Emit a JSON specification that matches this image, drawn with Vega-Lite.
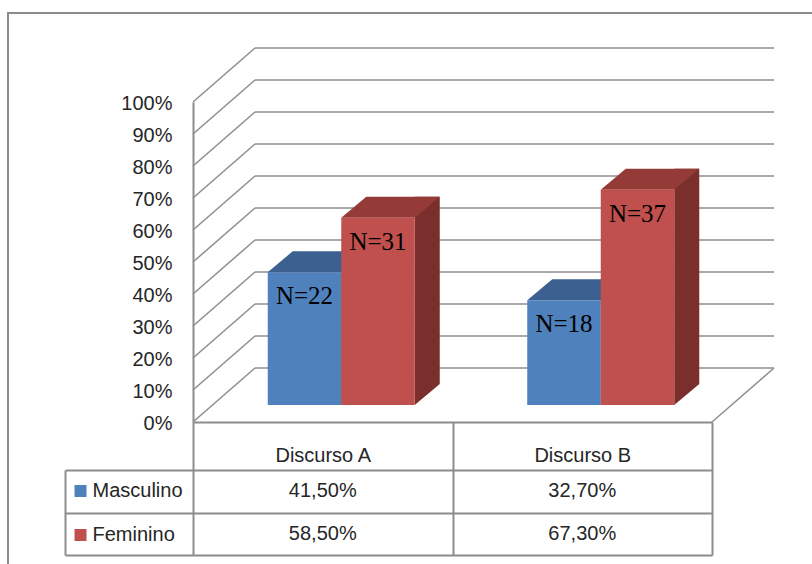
{
  "$schema": "https://vega.github.io/schema/vega-lite/v6.json",
  "width": 812,
  "height": 557,
  "autosize": "none",
  "padding": {"left": 8, "top": 13, "right": -8, "bottom": -6},
  "background": "#ffffff",
  "config": {
    "view": {"stroke": "#8c8c8c", "strokeWidth": 2},
    "locale": {
      "number": {"decimal": ",", "thousands": ".", "grouping": [3], "currency": ["", " €"]}
    },
    "axis": {
      "labelFont": "Liberation Sans",
      "labelFontSize": 20,
      "labelColor": "#262626",
      "domainColor": "#8c8c8c",
      "domainWidth": 2,
      "tickColor": "#8c8c8c",
      "tickWidth": 2,
      "grid": false
    }
  },
  "datasets": {
    "shares": [
      {"discurso": "Discurso A", "sexo": "Masculino", "pct": 0.415, "rotulo": "N=22"},
      {"discurso": "Discurso A", "sexo": "Feminino", "pct": 0.585, "rotulo": "N=31"},
      {"discurso": "Discurso B", "sexo": "Masculino", "pct": 0.327, "rotulo": "N=18"},
      {"discurso": "Discurso B", "sexo": "Feminino", "pct": 0.673, "rotulo": "N=37"}
    ],
    "gridlines": [
      {"v": 0}, {"v": 0.1}, {"v": 0.2}, {"v": 0.3}, {"v": 0.4}, {"v": 0.5},
      {"v": 0.6}, {"v": 0.7}, {"v": 0.8}, {"v": 0.9}, {"v": 1}
    ]
  },
  "layer": [
    {
      "data": {"name": "gridlines"},
      "encoding": {
        "y": {
          "field": "v",
          "type": "quantitative",
          "scale": {"domain": [0, 1], "range": [409, 89], "nice": false},
          "axis": {
            "orient": "left",
            "offset": -185,
            "ticks": false,
            "tickCount": 10,
            "format": ".0%",
            "labelPadding": 21,
            "labelOffset": 1,
            "title": null
          }
        }
      },
      "layer": [
        {
          "mark": {"type": "rule", "stroke": "#8e8e8e", "strokeWidth": 1.5, "xOffset": 62, "x2Offset": 62, "yOffset": -54},
          "encoding": {
            "x": {"datum": 0, "type": "quantitative", "scale": {"domain": [0, 1], "range": [185, 704]}, "axis": null},
            "x2": {"datum": 1}
          }
        },
        {
          "mark": {"type": "rule", "stroke": "#8e8e8e", "strokeWidth": 1.5, "x2Offset": 62, "y2Offset": -54},
          "encoding": {
            "x": {"datum": 0, "type": "quantitative", "scale": {"domain": [0, 1], "range": [185, 704]}, "axis": null},
            "x2": {"datum": 0},
            "y2": {"field": "v"}
          }
        },
        {
          "transform": [{"filter": "datum.v == 0"}],
          "mark": {"type": "rule", "stroke": "#8e8e8e", "strokeWidth": 1.5, "x2Offset": 62, "y2Offset": -54},
          "encoding": {
            "x": {"datum": 1, "type": "quantitative", "scale": {"domain": [0, 1], "range": [185, 704]}, "axis": null},
            "x2": {"datum": 1},
            "y2": {"field": "v"}
          }
        }
      ]
    },
    {
      "data": {"name": "shares"},
      "resolve": {"scale": {"xOffset": "independent"}},
      "encoding": {
        "x": {
          "field": "discurso",
          "type": "nominal",
          "scale": {"domain": ["Discurso A", "Discurso B"], "range": [203.5, 722.5], "paddingInner": 0, "paddingOuter": 0},
          "axis": null
        },
        "y": {
          "field": "pct",
          "type": "quantitative",
          "scale": {"domain": [0, 1], "range": [392, 72], "nice": false},
          "axis": null
        }
      },
      "layer": [
        {
          "mark": {"type": "bar", "width": 25, "yOffset": -21, "y2Offset": -21},
          "encoding": {
            "xOffset": {
              "field": "sexo",
              "type": "nominal",
              "scale": {"type": "band", "domain": ["Masculino", "Feminino"], "range": [49.25, 308.75], "paddingOuter": 0.7653, "paddingInner": 0}
            },
            "color": {"condition": {"test": "datum.sexo === 'Masculino'", "value": "#2f4d72"}, "value": "#7a2f2d"}
          }
        },
        {
          "mark": {"type": "point", "filled": true, "opacity": 1, "strokeWidth": 0, "size": 4, "shape": "M36.75,-21L36.75,0L61.75,-21Z"},
          "encoding": {
            "xOffset": {
              "field": "sexo",
              "type": "nominal",
              "scale": {"type": "band", "domain": ["Masculino", "Feminino"], "paddingOuter": 0.7653, "paddingInner": 0}
            },
            "y": {"datum": 0, "type": "quantitative", "scale": {"domain": [0, 1], "range": [392, 72], "nice": false}, "axis": null},
            "color": {"condition": {"test": "datum.sexo === 'Masculino'", "value": "#2f4d72"}, "value": "#7a2f2d"}
          }
        },
        {
          "mark": {"type": "point", "filled": true, "opacity": 1, "strokeWidth": 0, "size": 4, "shape": "M-36.75,0L36.75,0L61.75,-21L-11.75,-21Z"},
          "encoding": {
            "xOffset": {
              "field": "sexo",
              "type": "nominal",
              "scale": {"type": "band", "domain": ["Masculino", "Feminino"], "paddingOuter": 0.7653, "paddingInner": 0}
            },
            "color": {"condition": {"test": "datum.sexo === 'Masculino'", "value": "#3c6191"}, "value": "#943a37"}
          }
        },
        {
          "mark": {"type": "bar"},
          "encoding": {
            "xOffset": {
              "field": "sexo",
              "type": "nominal",
              "scale": {"type": "band", "domain": ["Masculino", "Feminino"], "paddingOuter": 0.7653, "paddingInner": 0}
            },
            "color": {
              "field": "sexo",
              "type": "nominal",
              "scale": {"domain": ["Masculino", "Feminino"], "range": ["#4f81bd", "#c0504d"]},
              "legend": {
                "orient": "none",
                "legendX": 62.5,
                "legendY": 468,
                "title": null,
                "padding": 0,
                "symbolType": "square",
                "symbolSize": 144,
                "symbolStrokeWidth": 0,
                "labelFont": "Liberation Sans",
                "labelFontSize": 20,
                "labelColor": "#262626",
                "labelOffset": 2,
                "rowPadding": 24
              }
            }
          }
        },
        {
          "mark": {"type": "text", "font": "Liberation Serif", "fontSize": 25, "color": "#000000", "align": "center", "baseline": "middle", "yOffset": 24},
          "encoding": {
            "xOffset": {
              "field": "sexo",
              "type": "nominal",
              "scale": {"type": "band", "domain": ["Masculino", "Feminino"], "paddingOuter": 0.7653, "paddingInner": 0}
            },
            "text": {"field": "rotulo", "type": "nominal"}
          }
        }
      ]
    },
    {
      "data": {"name": "shares"},
      "mark": {"type": "text", "font": "Liberation Sans", "fontSize": 20, "color": "#262626", "align": "center", "baseline": "middle"},
      "encoding": {
        "x": {
          "field": "discurso",
          "type": "nominal",
          "scale": {"domain": ["Discurso A", "Discurso B"], "range": [185, 704], "paddingInner": 0, "paddingOuter": 0},
          "axis": {
            "orient": "bottom",
            "offset": -148,
            "tickBand": "extent",
            "tickSize": 133,
            "labelAngle": 0,
            "labelBaseline": "middle",
            "labelPadding": -100,
            "title": null
          }
        },
        "y": {
          "field": "sexo",
          "type": "nominal",
          "scale": {"domain": ["Masculino", "Feminino"], "range": [457, 542], "paddingInner": 0, "paddingOuter": 0},
          "axis": {
            "orient": "left",
            "offset": -57,
            "tickBand": "extent",
            "tickSize": -647,
            "labels": false,
            "title": null
          }
        },
        "text": {"field": "pct", "type": "quantitative", "format": ".2%"}
      }
    }
  ],
  "resolve": {"scale": {"x": "independent", "y": "independent"}}
}
